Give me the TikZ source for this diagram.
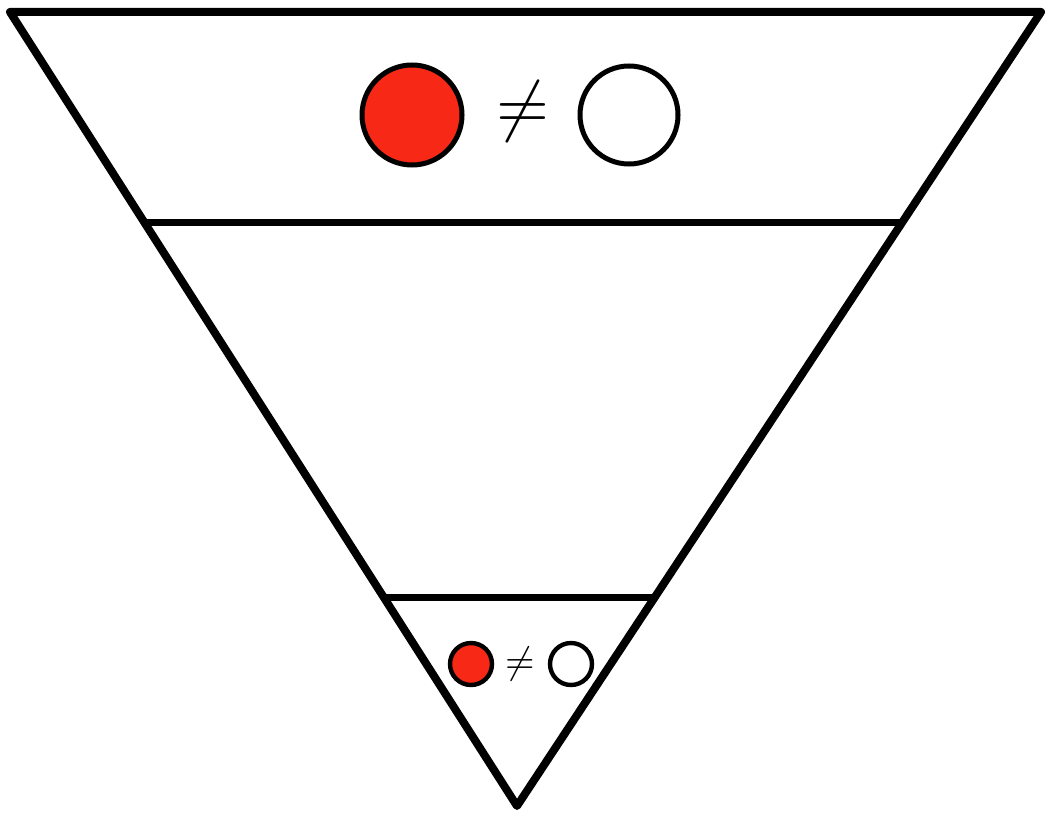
\documentclass[tikz,border=0pt]{standalone}
\usetikzlibrary{calc}
\definecolor{ballred}{RGB}{248,40,22}
\tikzset{
  ball/.style={circle, draw, line width=2.5pt, inner sep=0pt},
  smallball/.style={circle, draw, line width=2.2pt, inner sep=0pt, minimum size=21pt}
}
\begin{document}
\begin{tikzpicture}[x=0.5pt,y=-0.5pt]
\useasboundingbox (0,0) rectangle (1047,818);

% funnel outline
\coordinate (tl) at (10,12);
\coordinate (tr) at (1041,12);
\coordinate (tip) at (517,806);
\draw[line width=4pt, line join=round] (tr) -- (tl) -- (tip) -- cycle;
\draw[line width=3.5pt] ($(tl)!0.2645!(tip)$) -- ($(tr)!0.2645!(tip)$);
\draw[line width=3.5pt] ($(tl)!0.738!(tip)$) -- ($(tr)!0.738!(tip)$);

% top row
\node[ball, fill=ballred, minimum size=50pt] (bigred) at (412,115) {};
\node[ball, fill=white, minimum size=49pt] (bigwhite) at (629,115) {};
\node (bigneq) at (523,112) {\scalebox{3.4}{$\neq$}};

% bottom row
\node[smallball, fill=ballred] (smallred) at (471,664) {};
\node[smallball, fill=white] (smallwhite) at (571,664) {};
\node (smallneq) at (520,664) {\scalebox{1.9}{$\neq$}};
\end{tikzpicture}
\end{document}
